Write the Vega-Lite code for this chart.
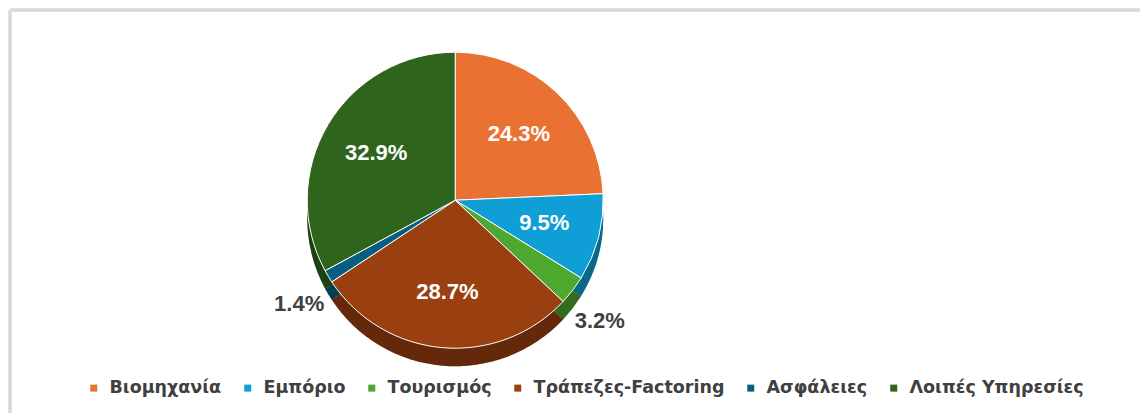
{
  "$schema": "https://vega.github.io/schema/vega-lite/v6.json",
  "width": 1144,
  "height": 418,
  "autosize": {"type": "fit", "contains": "padding"},
  "padding": {"left": 8, "top": 8, "right": 2, "bottom": 3},
  "background": "white",
  "config": {
    "view": {"stroke": null},
    "font": "Liberation Sans"
  },
  "data": {
    "values": [
      {"sector": "Βιομηχανία", "share": 24.3, "label": "24.3%", "order": 1},
      {"sector": "Εμπόριο", "share": 9.5, "label": "9.5%", "order": 2},
      {"sector": "Τουρισμός", "share": 3.2, "label": "3.2%", "order": 3},
      {"sector": "Τράπεζες-Factoring", "share": 28.7, "label": "28.7%", "order": 4},
      {"sector": "Ασφάλειες", "share": 1.4, "label": "1.4%", "order": 5},
      {"sector": "Λοιπές Υπηρεσίες", "share": 32.9, "label": "32.9%", "order": 6}
    ]
  },
  "encoding": {
    "theta": {"field": "share", "type": "quantitative", "stack": true},
    "order": {"field": "order", "type": "quantitative"},
    "color": {
      "field": "sector",
      "type": "nominal",
      "scale": {
        "domain": ["Βιομηχανία", "Εμπόριο", "Τουρισμός", "Τράπεζες-Factoring", "Ασφάλειες", "Λοιπές Υπηρεσίες"],
        "range": ["#E97132", "#0F9ED5", "#4EA72E", "#9A4010", "#095E80", "#2F641C"]
      },
      "legend": {
        "orient": "none",
        "legendX": 75,
        "legendY": 369,
        "direction": "horizontal",
        "title": null,
        "symbolType": "square",
        "symbolSize": 49,
        "symbolStrokeWidth": 0,
        "labelFont": "DejaVu Sans",
        "labelFontSize": 17.5,
        "labelFontWeight": "bold",
        "labelColor": "#404040",
        "labelOffset": 7,
        "columnPadding": 17,
        "labelLimit": 300
      }
    }
  },
  "layer": [
    {
      "mark": {"type": "rule", "stroke": "#D9D9D9", "strokeWidth": 2.5},
      "encoding": {
        "x": {"value": 0},
        "x2": {"value": "width"},
        "y": {"value": 0},
        "color": {"value": "#D9D9D9"},
        "theta": null,
        "order": null
      }
    },
    {
      "mark": {"type": "rule", "stroke": "#D9D9D9", "strokeWidth": 2.5},
      "encoding": {
        "x": {"value": 0},
        "y": {"value": 0},
        "y2": {"value": "height"},
        "color": {"value": "#D9D9D9"},
        "theta": null,
        "order": null
      }
    },
    {
      "mark": {"type": "arc", "outerRadius": 148, "x": {"expr": "width*0.394"}, "y": {"expr": "height*0.472+18"}}
    },
    {
      "mark": {"type": "arc", "outerRadius": 148, "opacity": 0.35, "x": {"expr": "width*0.394"}, "y": {"expr": "height*0.472+18"}},
      "encoding": {"color": {"value": "black"}}
    },
    {
      "mark": {"type": "arc", "outerRadius": 148, "stroke": "white", "strokeWidth": 1, "x": {"expr": "width*0.394"}, "y": {"expr": "height*0.472"}}
    },
    {
      "mark": {"type": "text", "radius": 92, "fontSize": 22, "fontWeight": "bold", "x": {"expr": "width*0.394"}, "y": {"expr": "height*0.472"}},
      "encoding": {
        "color": {"value": "white"},
        "text": {"condition": {"test": "datum.share >= 5", "field": "label"}, "value": ""}
      }
    },
    {
      "mark": {"type": "text", "radius": 182, "fontSize": 22, "fontWeight": "bold", "x": {"expr": "width*0.394"}, "y": {"expr": "height*0.472+10"}},
      "encoding": {
        "color": {"value": "#404040"},
        "text": {"condition": {"test": "datum.share < 5", "field": "label"}, "value": ""}
      }
    }
  ]
}
